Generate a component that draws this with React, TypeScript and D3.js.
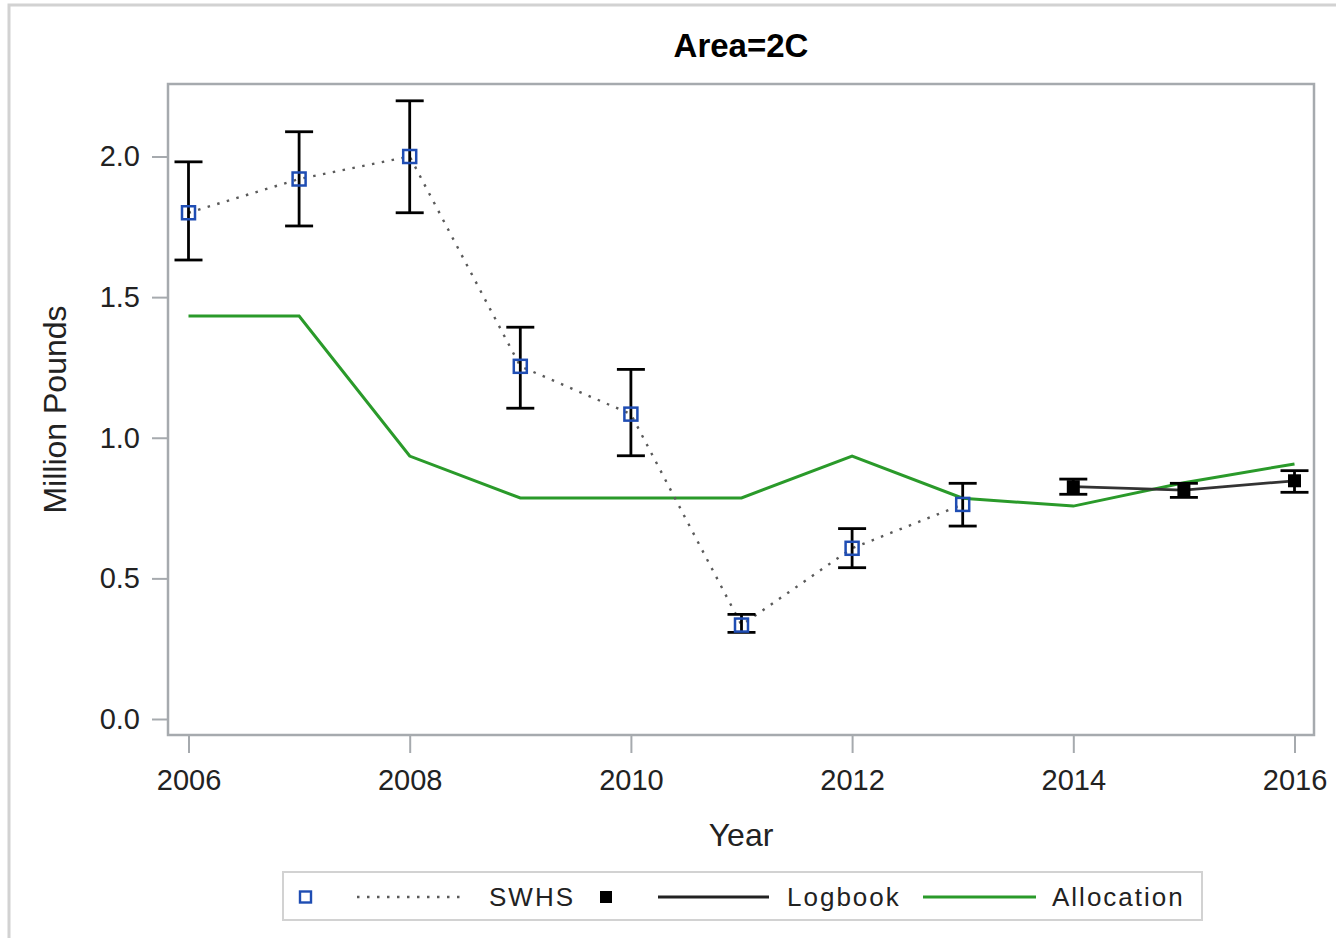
// Area=2C — SWHS estimates (with CI bars), logbook estimates and allocation, 2006–2016.
import { useEffect, useRef } from "react";
import * as d3 from "d3";

const swhsYears = [2006, 2007, 2008, 2009, 2010, 2011, 2012, 2013];
const swhsEst = [1.8, 1.92, 2.0, 1.254, 1.084, 0.334, 0.607, 0.763];
const swhsLo = [1.632, 1.753, 1.8, 1.105, 0.936, 0.308, 0.538, 0.686];
const swhsHi = [1.981, 2.088, 2.198, 1.393, 1.243, 0.372, 0.677, 0.838];

const logYears = [2014, 2015, 2016];
const logEst = [0.826, 0.814, 0.847];
const logLo = [0.799, 0.788, 0.806];
const logHi = [0.853, 0.838, 0.883];

const allocYears = [2006, 2007, 2008, 2009, 2010, 2011, 2012, 2013, 2014, 2015, 2016];
const allocVals = [1.433, 1.433, 0.935, 0.786, 0.786, 0.786, 0.935, 0.785, 0.757, 0.84, 0.907];

const xTicks = [2006, 2008, 2010, 2012, 2014, 2016];
const yTicks = [0, 0.5, 1.0, 1.5, 2.0];

const FONT = "'Liberation Sans', Arial, sans-serif";
const BLUE = "#1f4db3";
const GREEN = "#2a9a2a";
const FRAME = "#a6aaae";

export default function App() {
  const ref = useRef<SVGSVGElement>(null);

  useEffect(() => {
    const svg = d3.select(ref.current);
    svg.selectAll("*").remove();

    const frame = { left: 168, right: 1314, top: 84, bottom: 735 };
    const x = d3.scaleLinear().domain([2006, 2016]).range([188.5, 1294.5]);
    const y = d3.scaleLinear().domain([0, 2]).range([719, 156.5]);

    // outer border
    svg.append("rect")
      .attr("x", 9).attr("y", 5).attr("width", 1340).attr("height", 940)
      .attr("fill", "none").attr("stroke", "#d2d2d2").attr("stroke-width", 3);

    // title
    svg.append("text")
      .attr("x", (frame.left + frame.right) / 2).attr("y", 57)
      .attr("text-anchor", "middle").attr("font-family", FONT)
      .attr("font-weight", "bold").attr("font-size", 33).attr("fill", "#000")
      .text("Area=2C");

    // y axis
    const gy = svg.append("g").attr("transform", `translate(${frame.left},0)`)
      .call(d3.axisLeft(y).tickValues(yTicks).tickSize(16).tickPadding(12).tickFormat(d3.format(".1f")));
    gy.select(".domain").remove();
    gy.selectAll("line").attr("stroke", FRAME).attr("stroke-width", 2);
    gy.selectAll("text").attr("font-family", FONT).attr("font-size", 29).attr("fill", "#222");

    // x axis
    const gx = svg.append("g").attr("transform", `translate(0,${frame.bottom})`)
      .call(d3.axisBottom(x).tickValues(xTicks).tickSize(18).tickPadding(16).tickFormat(d3.format("d")));
    gx.select(".domain").remove();
    gx.selectAll("line").attr("stroke", FRAME).attr("stroke-width", 2);
    gx.selectAll("text").attr("font-family", FONT).attr("font-size", 29).attr("fill", "#222");

    // axis labels
    svg.append("text")
      .attr("x", (frame.left + frame.right) / 2).attr("y", 846)
      .attr("text-anchor", "middle").attr("font-family", FONT).attr("font-size", 32).attr("fill", "#222")
      .text("Year");
    svg.append("text")
      .attr("transform", `translate(66,${(frame.top + frame.bottom) / 2}) rotate(-90)`)
      .attr("text-anchor", "middle").attr("font-family", FONT).attr("font-size", 32).attr("fill", "#222")
      .text("Million Pounds");

    // plot frame
    svg.append("rect")
      .attr("x", frame.left).attr("y", frame.top)
      .attr("width", frame.right - frame.left).attr("height", frame.bottom - frame.top)
      .attr("fill", "none").attr("stroke", FRAME).attr("stroke-width", 2.5);

    const line = d3.line<[number, number]>().x((d) => x(d[0])).y((d) => y(d[1]));

    // allocation (green)
    svg.append("path")
      .attr("d", line(allocYears.map((yr, i) => [yr, allocVals[i]])))
      .attr("fill", "none").attr("stroke", GREEN).attr("stroke-width", 3);

    // SWHS dotted line
    svg.append("path")
      .attr("d", line(swhsYears.map((yr, i) => [yr, swhsEst[i]])))
      .attr("fill", "none").attr("stroke", "#5a5a5a").attr("stroke-width", 2.4)
      .attr("stroke-dasharray", "2.5,7.5");

    // logbook line
    svg.append("path")
      .attr("d", line(logYears.map((yr, i) => [yr, logEst[i]])))
      .attr("fill", "none").attr("stroke", "#333").attr("stroke-width", 2.8);

    const errBars = (yrs: number[], lo: number[], hi: number[]) => {
      const g = svg.append("g").attr("stroke", "#000").attr("stroke-width", 2.8);
      yrs.forEach((yr, i) => {
        const cx = x(yr);
        g.append("line").attr("x1", cx).attr("x2", cx).attr("y1", y(lo[i])).attr("y2", y(hi[i]));
        for (const v of [lo[i], hi[i]]) {
          g.append("line").attr("x1", cx - 14).attr("x2", cx + 14).attr("y1", y(v)).attr("y2", y(v));
        }
      });
    };
    errBars(swhsYears, swhsLo, swhsHi);
    errBars(logYears, logLo, logHi);

    // SWHS markers — hollow blue squares
    svg.append("g").selectAll("rect").data(swhsYears).join("rect")
      .attr("x", (d) => x(d) - 6.5).attr("y", (d, i) => y(swhsEst[i]) - 6.5)
      .attr("width", 13).attr("height", 13)
      .attr("fill", "none").attr("stroke", BLUE).attr("stroke-width", 2.5);

    // logbook markers — filled black squares
    svg.append("g").selectAll("rect").data(logYears).join("rect")
      .attr("x", (d) => x(d) - 6.5).attr("y", (d, i) => y(logEst[i]) - 6.5)
      .attr("width", 13).attr("height", 13).attr("fill", "#000");

    // legend
    const lg = svg.append("g");
    lg.append("rect").attr("x", 283).attr("y", 872).attr("width", 919).attr("height", 48)
      .attr("fill", "#fff").attr("stroke", "#d2d2d2").attr("stroke-width", 2);
    const ly = 897;
    lg.append("rect").attr("x", 300).attr("y", ly - 5.5).attr("width", 11).attr("height", 11)
      .attr("fill", "none").attr("stroke", BLUE).attr("stroke-width", 2.4);
    lg.append("line").attr("x1", 357).attr("x2", 467).attr("y1", ly).attr("y2", ly)
      .attr("stroke", "#5a5a5a").attr("stroke-width", 2.4).attr("stroke-dasharray", "2.5,7.5");
    lg.append("rect").attr("x", 600).attr("y", ly - 6).attr("width", 12).attr("height", 12).attr("fill", "#000");
    lg.append("line").attr("x1", 658).attr("x2", 769).attr("y1", ly).attr("y2", ly)
      .attr("stroke", "#222").attr("stroke-width", 2.8);
    lg.append("line").attr("x1", 923).attr("x2", 1036).attr("y1", ly).attr("y2", ly)
      .attr("stroke", GREEN).attr("stroke-width", 3);
    const legendText = [
      { x: 489, t: "SWHS" },
      { x: 787, t: "Logbook" },
      { x: 1052, t: "Allocation" },
    ];
    lg.selectAll("text").data(legendText).join("text")
      .attr("x", (d) => d.x).attr("y", ly + 9)
      .attr("font-family", FONT).attr("font-size", 26).attr("letter-spacing", "2px").attr("fill", "#222")
      .text((d) => d.t);
  }, []);

  return (
    <svg
      ref={ref}
      width={1336}
      height={938}
      style={{ position: "absolute", left: 0, top: 0, background: "#fff" }}
    />
  );
}
